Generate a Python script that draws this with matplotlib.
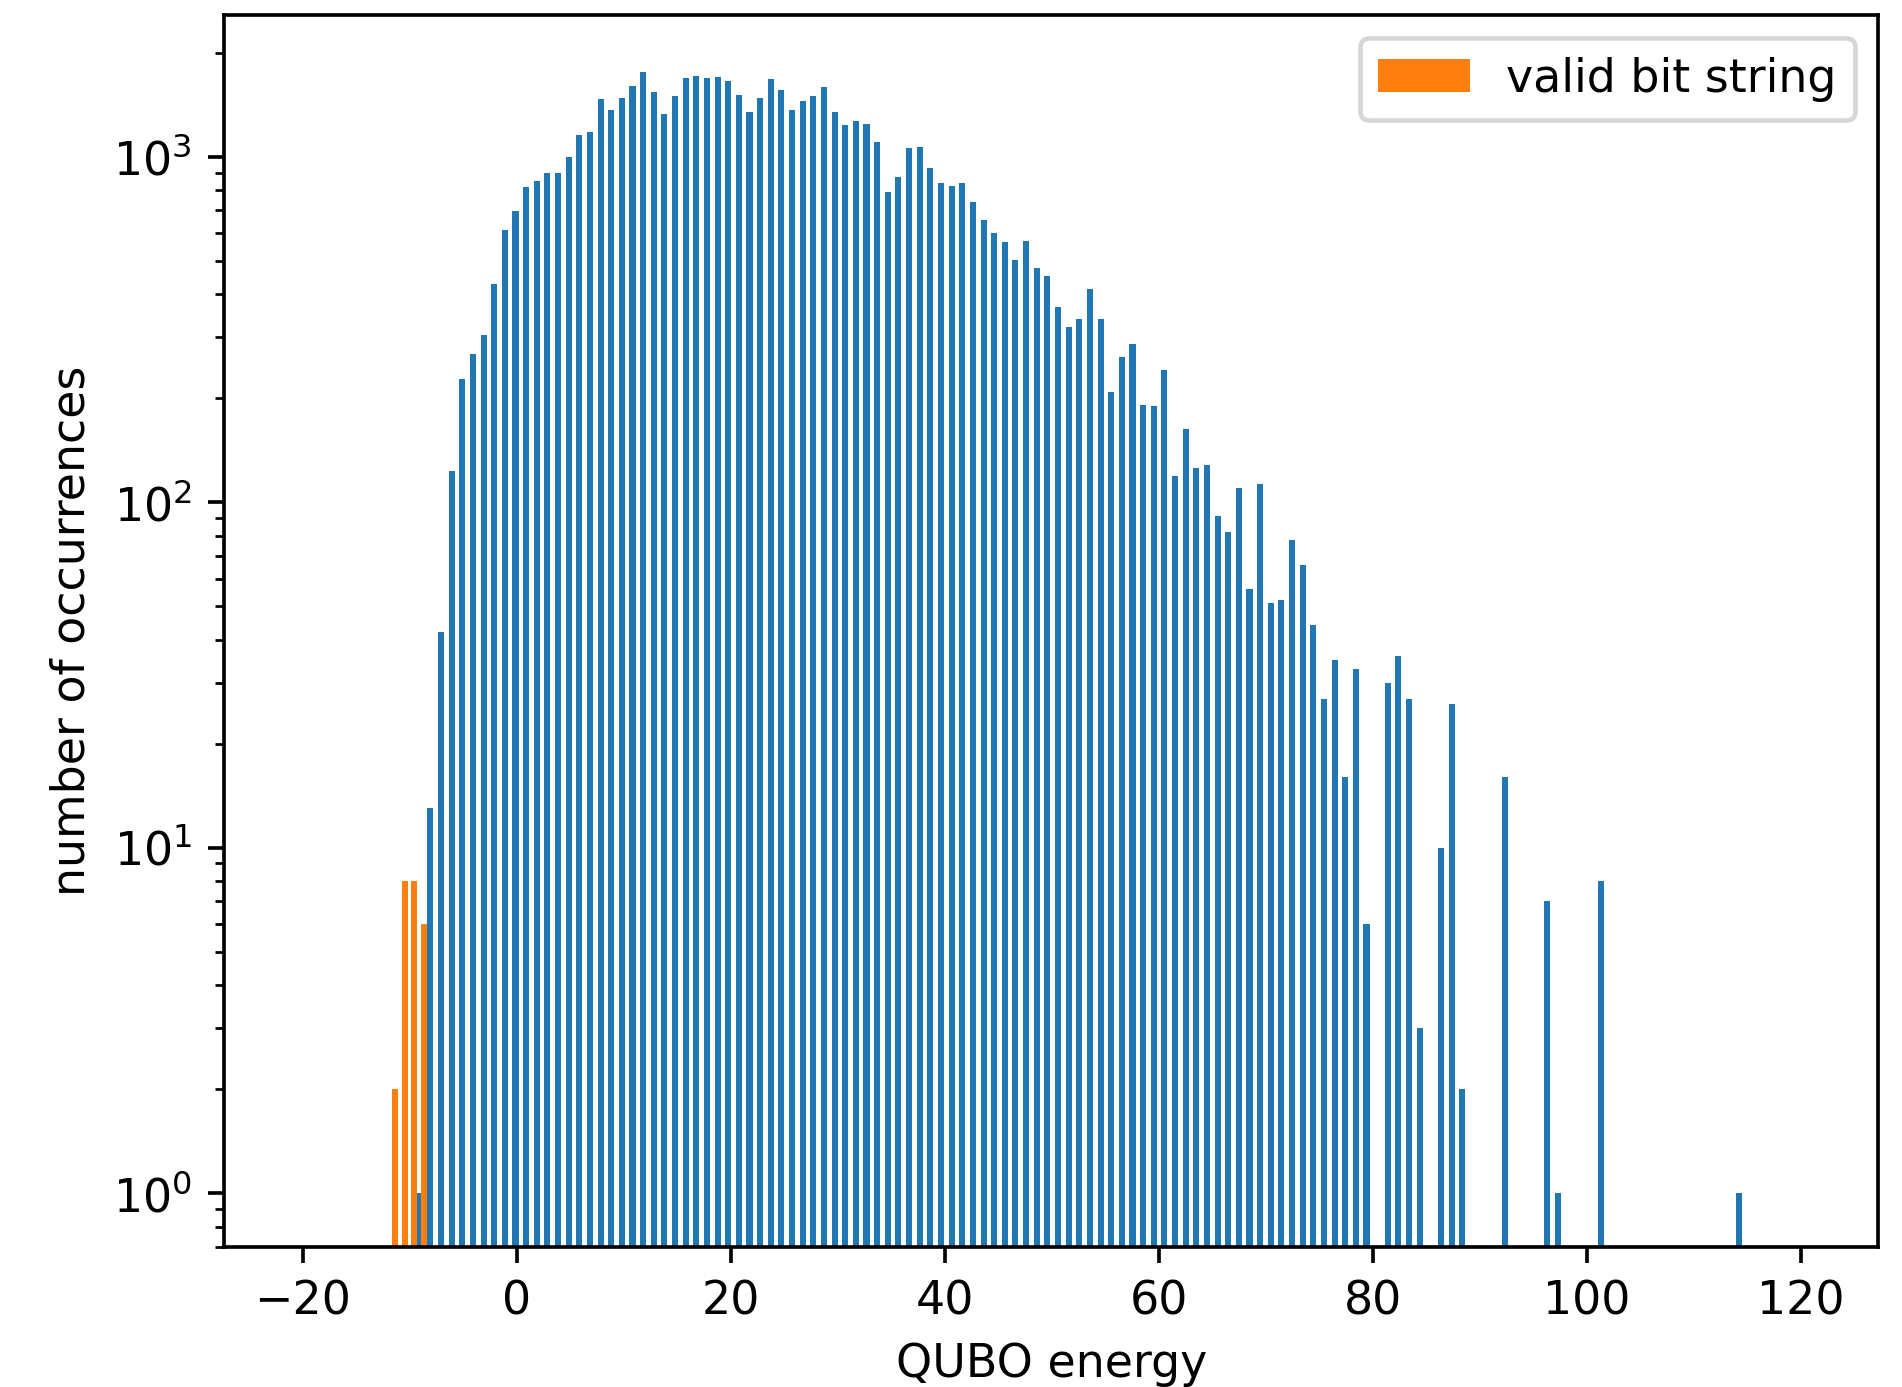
import numpy as np
import matplotlib
matplotlib.use('Agg')
import matplotlib.pyplot as plt

# Histogram of QUBO energies (counts)
# all samples: 125 bins spanning the energy range
ENERGY_MIN = -9.56
ENERGY_MAX = 114.69
COUNTS = [
    1, 13, 42, 123, 227, 269, 305, 428, 614,          # -9 .. -1
    697, 818, 851, 898, 898, 998, 1157, 1180, 1470, 1366,   # 0 .. 9
    1480, 1603, 1760, 1541, 1330, 1500, 1691, 1714, 1691, 1703,  # 10 .. 19
    1657, 1510, 1348, 1480, 1680, 1561, 1366, 1451, 1500, 1592,  # 20 .. 29
    1348, 1236, 1270, 1244, 1104, 791, 874, 1060, 1067, 928,     # 30 .. 39
    840, 823, 840, 740, 656, 602, 567, 503, 571, 476,            # 40 .. 49
    452, 367, 322, 339, 414, 339, 208, 263, 287, 191,            # 50 .. 59
    190, 241, 119, 163, 126, 128, 91, 82, 110, 56,               # 60 .. 69
    113, 51, 52, 78, 66, 44, 27, 35, 16, 33,                     # 70 .. 79
    6, 0, 30, 36, 27, 3, 0, 10, 26, 2,                           # 80 .. 89
    0, 0, 0, 16, 0, 0, 0, 7, 1, 0,                               # 90 .. 99
    0, 0, 8, 0, 0, 0, 0, 0, 0, 0,                                # 100 .. 109
    0, 0, 0, 0, 0, 1,                                            # 110 .. 115
]

# valid bit strings: 4 bins
VALID_MIN = -11.83
VALID_MAX = -8.22
VALID_COUNTS = [2, 8, 8, 6]

DPI = 330
fig, ax = plt.subplots(figsize=(1902 / DPI, 1387 / DPI), dpi=DPI)
fig.subplots_adjust(left=0.1179, right=0.9874, top=0.989, bottom=0.1009)

edges = np.linspace(ENERGY_MIN, ENERGY_MAX, len(COUNTS) + 1)
centers = (edges[:-1] + edges[1:]) / 2
ax.hist(centers, bins=edges, weights=COUNTS, rwidth=0.57, log=True, color='C0')

valid_edges = np.linspace(VALID_MIN, VALID_MAX, len(VALID_COUNTS) + 1)
valid_centers = (valid_edges[:-1] + valid_edges[1:]) / 2
ax.hist(valid_centers, bins=valid_edges, weights=VALID_COUNTS, rwidth=0.62,
        log=True, color='C1', label='valid bit string')

ax.set_xlim(-27.33, 127.2)
ax.set_ylim(0.698, 2569)
ax.set_xlabel('QUBO energy')
ax.set_ylabel('number of occurrences')
ax.legend(loc='upper right')

fig.savefig('out.png', dpi=DPI)
